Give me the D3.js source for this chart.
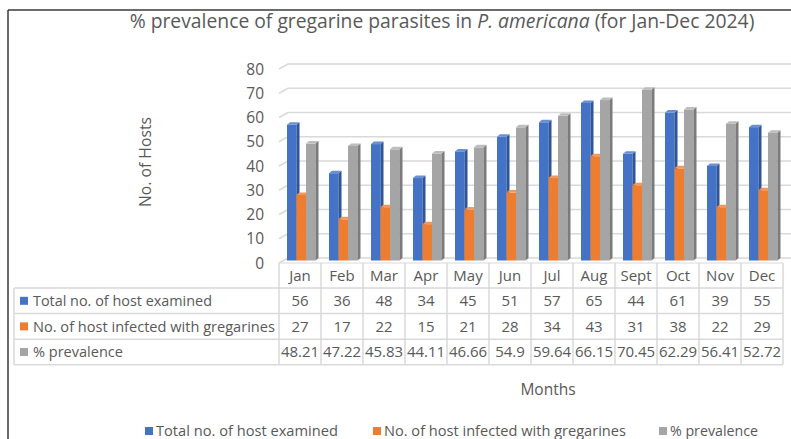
<!DOCTYPE html>
<html><head><meta charset="utf-8">
<script src="https://cdn.jsdelivr.net/npm/d3@7"></script>
<style>html,body{margin:0;padding:0;background:#fff;}svg{display:block;}</style>
</head><body>
<script>
const months = ["Jan","Feb","Mar","Apr","May","Jun","Jul","Aug","Sept","Oct","Nov","Dec"];
const totalExamined = [56,36,48,34,45,51,57,65,44,61,39,55];
const infected = [27,17,22,15,21,28,34,43,31,38,22,29];
const prevalence = [48.21,47.22,45.83,44.11,46.66,54.9,59.64,66.15,70.45,62.29,56.41,52.72];
const seriesNames = ["Total no. of host examined","No. of host infected with gregarines","% prevalence"];
const yTicks = [0,10,20,30,40,50,60,70,80];

const W = 791, H = 439;
const FONT = "'Open Sans', 'Liberation Sans', sans-serif";
const TXT = "#595959";
const colors = {
  front: ["#4472C4","#ED7D31","#A5A5A5"],
  side:  ["#2F5597","#B55E24","#7B7B7B"],
  top:   ["#6A8FD3","#F2985A","#BDBDBD"]
};
const series = [totalExamined, infected, prevalence];

const svg = d3.select("body").append("svg").attr("width", W).attr("height", H)
  .style("font-family", FONT);

function fitWidth(sel, target) {
  const node = sel.node();
  const w = node.getBBox().width;
  const fs = parseFloat(sel.attr("font-size"));
  if (w > 0) sel.attr("font-size", (fs * target / w).toFixed(2));
}

// frame
svg.append("line").attr("x1",8).attr("y1",10).attr("x2",W).attr("y2",10).attr("stroke","#3a3a3a").attr("stroke-width",1.5);
svg.append("line").attr("x1",8).attr("y1",10).attr("x2",8).attr("y2",H).attr("stroke","#3a3a3a").attr("stroke-width",1.5);

// scales
const x = d3.scaleBand().domain(months).range([279, 783]).padding(0);
const y = d3.scaleLinear().domain([0, 80]).range([263, 69]);
const DX = 9, DY = -5;   // depth of back wall
const grid = "#D9D9D9";

// gridlines (3D: slanted start at the left wall then horizontal along back wall)
const gG = svg.append("g");
yTicks.forEach(t => {
  const yf = y(t);
  gG.append("path")
    .attr("d", `M${x.range()[0]},${yf} L${x.range()[0]+DX},${yf+DY} L${x.range()[1]+DX},${yf+DY}`)
    .attr("fill","none").attr("stroke",grid).attr("stroke-width",1.5);
});
// floor front edge
gG.append("line").attr("x1",x.range()[0]).attr("x2",x.range()[1]).attr("y1",y(0)).attr("y2",y(0))
  .attr("stroke",grid).attr("stroke-width",1);

// y tick labels
svg.append("g").selectAll("text").data(yTicks).join("text")
  .attr("x", 264).attr("y", d => y(d)).attr("dy","0.36em")
  .attr("text-anchor","end").attr("font-size",15.5).attr("fill",TXT)
  .text(d => d);

// y axis title
const yTitle = svg.append("text").attr("transform","translate(151,162) rotate(-90)")
  .attr("text-anchor","middle").attr("font-size",15).attr("fill",TXT)
  .text("No. of Hosts");
fitWidth(yTitle, 90);

// bars
const barW = 9.5, bd = 3, bh = -2.5, mid = -2.5;
const gB = svg.append("g");
months.forEach((m, i) => {
  const x0 = x(m) + 8;
  series.forEach((s, k) => {
    const v = s[i];
    const bx = x0 + k * barW;
    const yt = y(v) + mid, yb = y(0) + mid;
    gB.append("rect").attr("x", bx).attr("y", yt).attr("width", barW).attr("height", yb - yt)
      .attr("fill", colors.front[k]);
    gB.append("path").attr("d", `M${bx+barW},${yt} L${bx+barW+bd},${yt+bh} L${bx+barW+bd},${yb+bh} L${bx+barW},${yb} Z`)
      .attr("fill", colors.side[k]);
    gB.append("path").attr("d", `M${bx},${yt} L${bx+bd},${yt+bh} L${bx+barW+bd},${yt+bh} L${bx+barW},${yt} Z`)
      .attr("fill", colors.top[k]);
  });
});

// data table
const tTop = 288, rowH = 25.6, tLeft = 14;
const rowsY = [tTop, tTop + rowH, tTop + 2*rowH, tTop + 3*rowH];
const gT = svg.append("g");
rowsY.forEach(ry => gT.append("line").attr("x1", tLeft).attr("x2", x.range()[1]).attr("y1", ry).attr("y2", ry)
  .attr("stroke", grid).attr("stroke-width", 1.5));
gT.append("line").attr("x1", tLeft).attr("x2", tLeft).attr("y1", tTop).attr("y2", rowsY[3]).attr("stroke", grid).attr("stroke-width", 1.5);
const colEdges = months.map(m => x(m)).concat([x.range()[1]]);
colEdges.forEach(cx => gT.append("line").attr("x1", cx).attr("x2", cx).attr("y1", y(0)).attr("y2", rowsY[3])
  .attr("stroke", grid).attr("stroke-width", 1.5));

// month header
gT.selectAll("text.m").data(months).join("text").attr("class","m")
  .attr("x", d => x(d) + x.bandwidth()/2).attr("y", (y(0) + tTop)/2).attr("dy","0.36em")
  .attr("text-anchor","middle").attr("font-size",15).attr("fill",TXT).text(d => d);

// row labels & values
const rowTexts = [totalExamined.map(String), infected.map(String), prevalence.map(String)];
const labelW = [179, 242, 90];
seriesNames.forEach((name, k) => {
  const cy = rowsY[k] + rowH/2;
  gT.append("rect").attr("x", 20).attr("y", cy - 4).attr("width", 8).attr("height", 8).attr("fill", colors.front[k]);
  const t = gT.append("text").attr("x", 33).attr("y", cy).attr("dy","0.36em")
    .attr("font-size",15).attr("fill",TXT).text(name);
  fitWidth(t, labelW[k]);
  gT.selectAll(null).data(rowTexts[k]).join("text")
    .attr("x", (d, i) => x(months[i]) + x.bandwidth()/2).attr("y", cy).attr("dy","0.36em")
    .attr("text-anchor","middle").attr("font-size", 15).attr("fill",TXT)
    .text(d => d)
    .each(function() { const w = this.getBBox().width; if (w > 39) d3.select(this).attr("textLength", 39).attr("lengthAdjust","spacingAndGlyphs"); });
});

// x axis title
svg.append("text").attr("x", 548).attr("y", 389).attr("dy","0.36em").attr("text-anchor","middle")
  .attr("font-size",15.5).attr("fill",TXT).text("Months");

// title
const title = svg.append("text").attr("x", 442).attr("y", 28).attr("text-anchor","middle")
  .attr("font-size",18).attr("fill",TXT);
title.append("tspan").text("% prevalence of gregarine parasites in ");
title.append("tspan").attr("font-style","italic").text("P. americana");
title.append("tspan").text(" (for Jan-Dec 2024)");
fitWidth(title, 625);

// legend
const legX = [145, 373, 659];
const legW = [182, 242, 88];
seriesNames.forEach((name, k) => {
  svg.append("rect").attr("x", legX[k]).attr("y", 427).attr("width", 8).attr("height", 8).attr("fill", colors.front[k]);
  const t = svg.append("text").attr("x", legX[k] + 11).attr("y", 431).attr("dy","0.36em")
    .attr("font-size",15).attr("fill",TXT).text(name);
  fitWidth(t, legW[k]);
});
</script>
</body></html>
